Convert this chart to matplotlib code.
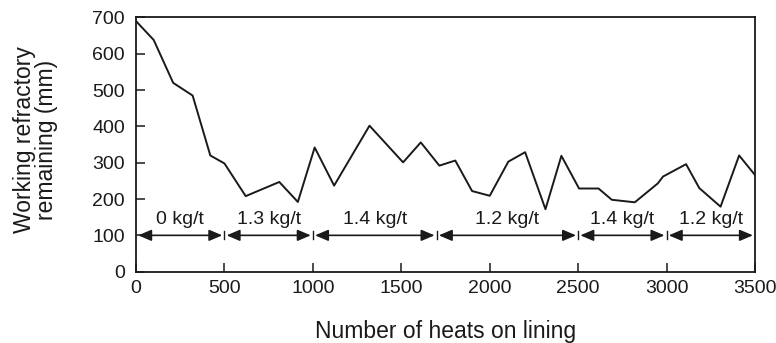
import matplotlib
matplotlib.use("Agg")
import matplotlib.pyplot as plt

plt.rcParams['font.family'] = ['Liberation Sans', 'DejaVu Sans']

# lining wear readings
heats = [0, 100, 210, 320, 420, 500, 620, 810, 915, 1010, 1120, 1320, 1510, 1610,
         1715, 1805, 1900, 2000, 2105, 2200, 2315, 2405, 2505, 2615, 2690, 2820,
         2950, 2980, 3110, 3185, 3305, 3410, 3500]
remaining = [690, 638, 520, 485, 320, 298, 208, 247, 192, 342, 237, 402, 301, 356,
             292, 306, 222, 209, 303, 329, 172, 319, 229, 229, 198, 191,
             243, 262, 296, 230, 179, 320, 266]

# addition rate periods
bounds = [0, 500, 1000, 1700, 2500, 3000, 3500]
rates = ["0 kg/t", "1.3 kg/t", "1.4 kg/t", "1.2 kg/t", "1.4 kg/t", "1.2 kg/t"]
arrow_y = 100

ink = "#1a1a1a"

fig = plt.figure(figsize=(7.76, 3.43), dpi=100)
ax = fig.add_axes([0.1753, 0.208, 0.7977, 0.741])

ax.plot(heats, remaining, color=ink, lw=1.4)

for i, lab in enumerate(rates):
    x0, x1 = bounds[i], bounds[i + 1]
    ax.annotate("", xy=(x1 - 12, arrow_y), xytext=(x0 + 12, arrow_y),
                arrowprops=dict(arrowstyle="<|-|>,head_length=0.4,head_width=0.17",
                                color=ink, lw=1.2, mutation_scale=20,
                                shrinkA=0, shrinkB=0))
    ax.text((x0 + x1) / 2, arrow_y + 20, lab, ha="center", va="bottom",
            fontsize=14, color=ink)
for b in bounds[1:-1]:
    ax.plot([b, b], [arrow_y - 11, arrow_y + 11], color=ink, lw=1)

ax.set_xlim(0, 3500)
ax.set_ylim(0, 700)
ax.set_xticks(range(0, 3501, 500))
ax.set_yticks(range(0, 701, 100))
ax.tick_params(direction="in", length=6.5, width=1.1, labelsize=14, colors=ink)
ax.tick_params(axis="x", pad=6)
ax.tick_params(axis="y", pad=8)
for s in ax.spines.values():
    s.set_linewidth(1.3)
    s.set_color(ink)

ax.set_xlabel("Number of heats on lining", fontsize=16.5, color=ink, va="top")
ax.xaxis.set_label_coords(0.5, -0.19)
ax.set_ylabel("Working refractory\nremaining (mm)", fontsize=16.5, color=ink,
              linespacing=0.95, va="center")
ax.yaxis.set_label_coords(-0.162, 0.52)

fig.savefig("out.png", dpi=100)
